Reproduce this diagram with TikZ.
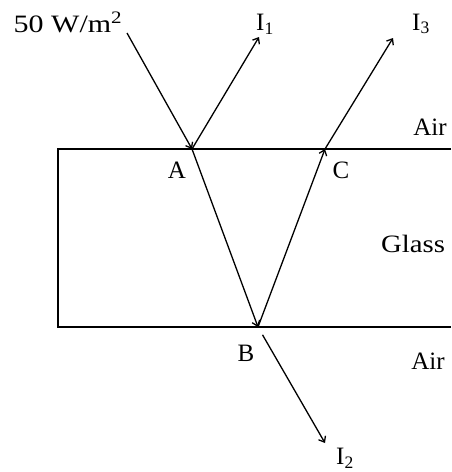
\documentclass[tikz,border=0pt]{standalone}
\usepackage{fontspec}
\setmainfont{Liberation Serif}
\usetikzlibrary{arrows.meta}

\begin{document}
\begin{tikzpicture}[
  x=1pt, y=-1pt,
  surface/.style={
    draw=black,
    line width=2pt
  },
  ray/.style={
    -{Straight Barb[length=5pt,width=8pt]},
    draw=black,
    line width=1.3pt
  },
  lbl/.style={
    inner sep=0pt,
    font=\fontsize{25}{28}\selectfont
  }
]
\useasboundingbox (0,0) rectangle (451,472);

% glass slab
\draw[surface] (451,149) -- (58,149) -- (58,327) -- (451,327);

\coordinate (A) at (192,149);
\coordinate (B) at (258,327);
\coordinate (C) at (325,149);
\coordinate (src) at (127,33);
\coordinate (end1) at (259,37);
\coordinate (end2) at (325,443);
\coordinate (end3) at (393,38);

\node[lbl] (flux) at (68,22) {\scalebox{1.2}[1]{50 W/m\textsuperscript{2}}};
\node[lbl] (lblI1) at (265,24) {I\textsubscript{1}};
\node[lbl] (lblI3) at (421,24) {I\textsubscript{3}};
\node[lbl] (lblI2) at (345,458) {I\textsubscript{2}};
\node[lbl] (lblA) at (177,170) {A};
\node[lbl] (lblB) at (246,353) {B};
\node[lbl] (lblC) at (341,170) {C};
\node[lbl] (airtop) at (430,127) {Air};
\node[lbl] (glass) at (413,244) {\scalebox{1.15}[1]{Glass}};
\node[lbl] (airbot) at (428,361) {Air};

\draw[ray] (src) -- (A);
\draw[ray] (A) -- (end1);
\draw[ray] (A) -- (B);
\draw[ray] (B) -- (C);
\draw[ray] (C) -- (end3);
\draw[ray, shorten <=9pt] (B) -- (end2);

\end{tikzpicture}
\end{document}
